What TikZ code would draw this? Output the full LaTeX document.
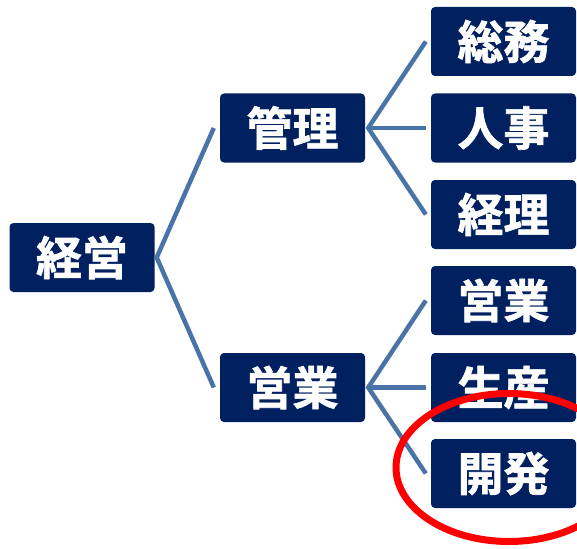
\documentclass[tikz,border=0pt]{standalone}
\usepackage{fontspec}
\newfontfamily\jpfont{Noto Sans CJK JP}[BoldFont={* Bold}, BoldFeatures={FakeBold=1.5}]
\usetikzlibrary{calc,shapes.geometric}
\definecolor{boxnavy}{HTML}{002060}
\definecolor{linkblue}{HTML}{4A74A8}
\definecolor{markred}{HTML}{FF0000}
\tikzset{
  orgbox/.style={fill=boxnavy, rounded corners=4pt, minimum width=145pt, minimum height=69pt,
    inner sep=0pt, text=white, font=\jpfont\bfseries\fontsize{46pt}{46pt}\selectfont},
  link/.style={draw=linkblue, line width=4.5pt, line cap=butt, line join=miter},
}
\begin{document}
\begin{tikzpicture}[x=1pt,y=-1pt]
\useasboundingbox (0,0) rectangle (577,548);
\clip (0,0) rectangle (577,548);
\node[orgbox] (keiei) at (82,257.5) {経営};
\node[orgbox] (kanri) at (292.5,128) {管理};
\node[orgbox] (eigyoA) at (292.5,387.5) {営業};
\node[orgbox] (somu) at (503.5,41.5) {総務};
\node[orgbox] (jinji) at (503.5,128) {人事};
\node[orgbox] (keiri) at (503.5,214.5) {経理};
\node[orgbox] (eigyoB) at (503.5,300.5) {営業};
\node[orgbox] (seisan) at (503.5,387.5) {生産};
\node[orgbox] (kaihatsu) at (503.5,473.5) {開発};
\coordinate (v1) at ($(keiei.east)+(2,0)$);
\coordinate (v2) at ($(kanri.east)+(3,0)$);
\coordinate (v3) at ($(eigyoA.east)+(3,0)$);
\draw[link] ($(kanri.west)+(-6,0)$) -- (v1) -- ($(eigyoA.west)+(-6,0)$);
\draw[link] ($(somu.west)+(-5,0)$) -- (v2) -- ($(keiri.west)+(-5,0)$);
\draw[link] (v2) -- ($(jinji.west)+(-5,0)$);
\draw[link] ($(eigyoB.west)+(-5,0)$) -- (v3) -- ($(kaihatsu.west)+(-5,0)$);
\draw[link] (v3) -- ($(seisan.west)+(-5,0)$);
\node[draw=markred, line width=7pt, ellipse, minimum width=226pt, minimum height=148pt, inner sep=0pt] (mark) at (509,467.5) {};
\end{tikzpicture}
\end{document}
